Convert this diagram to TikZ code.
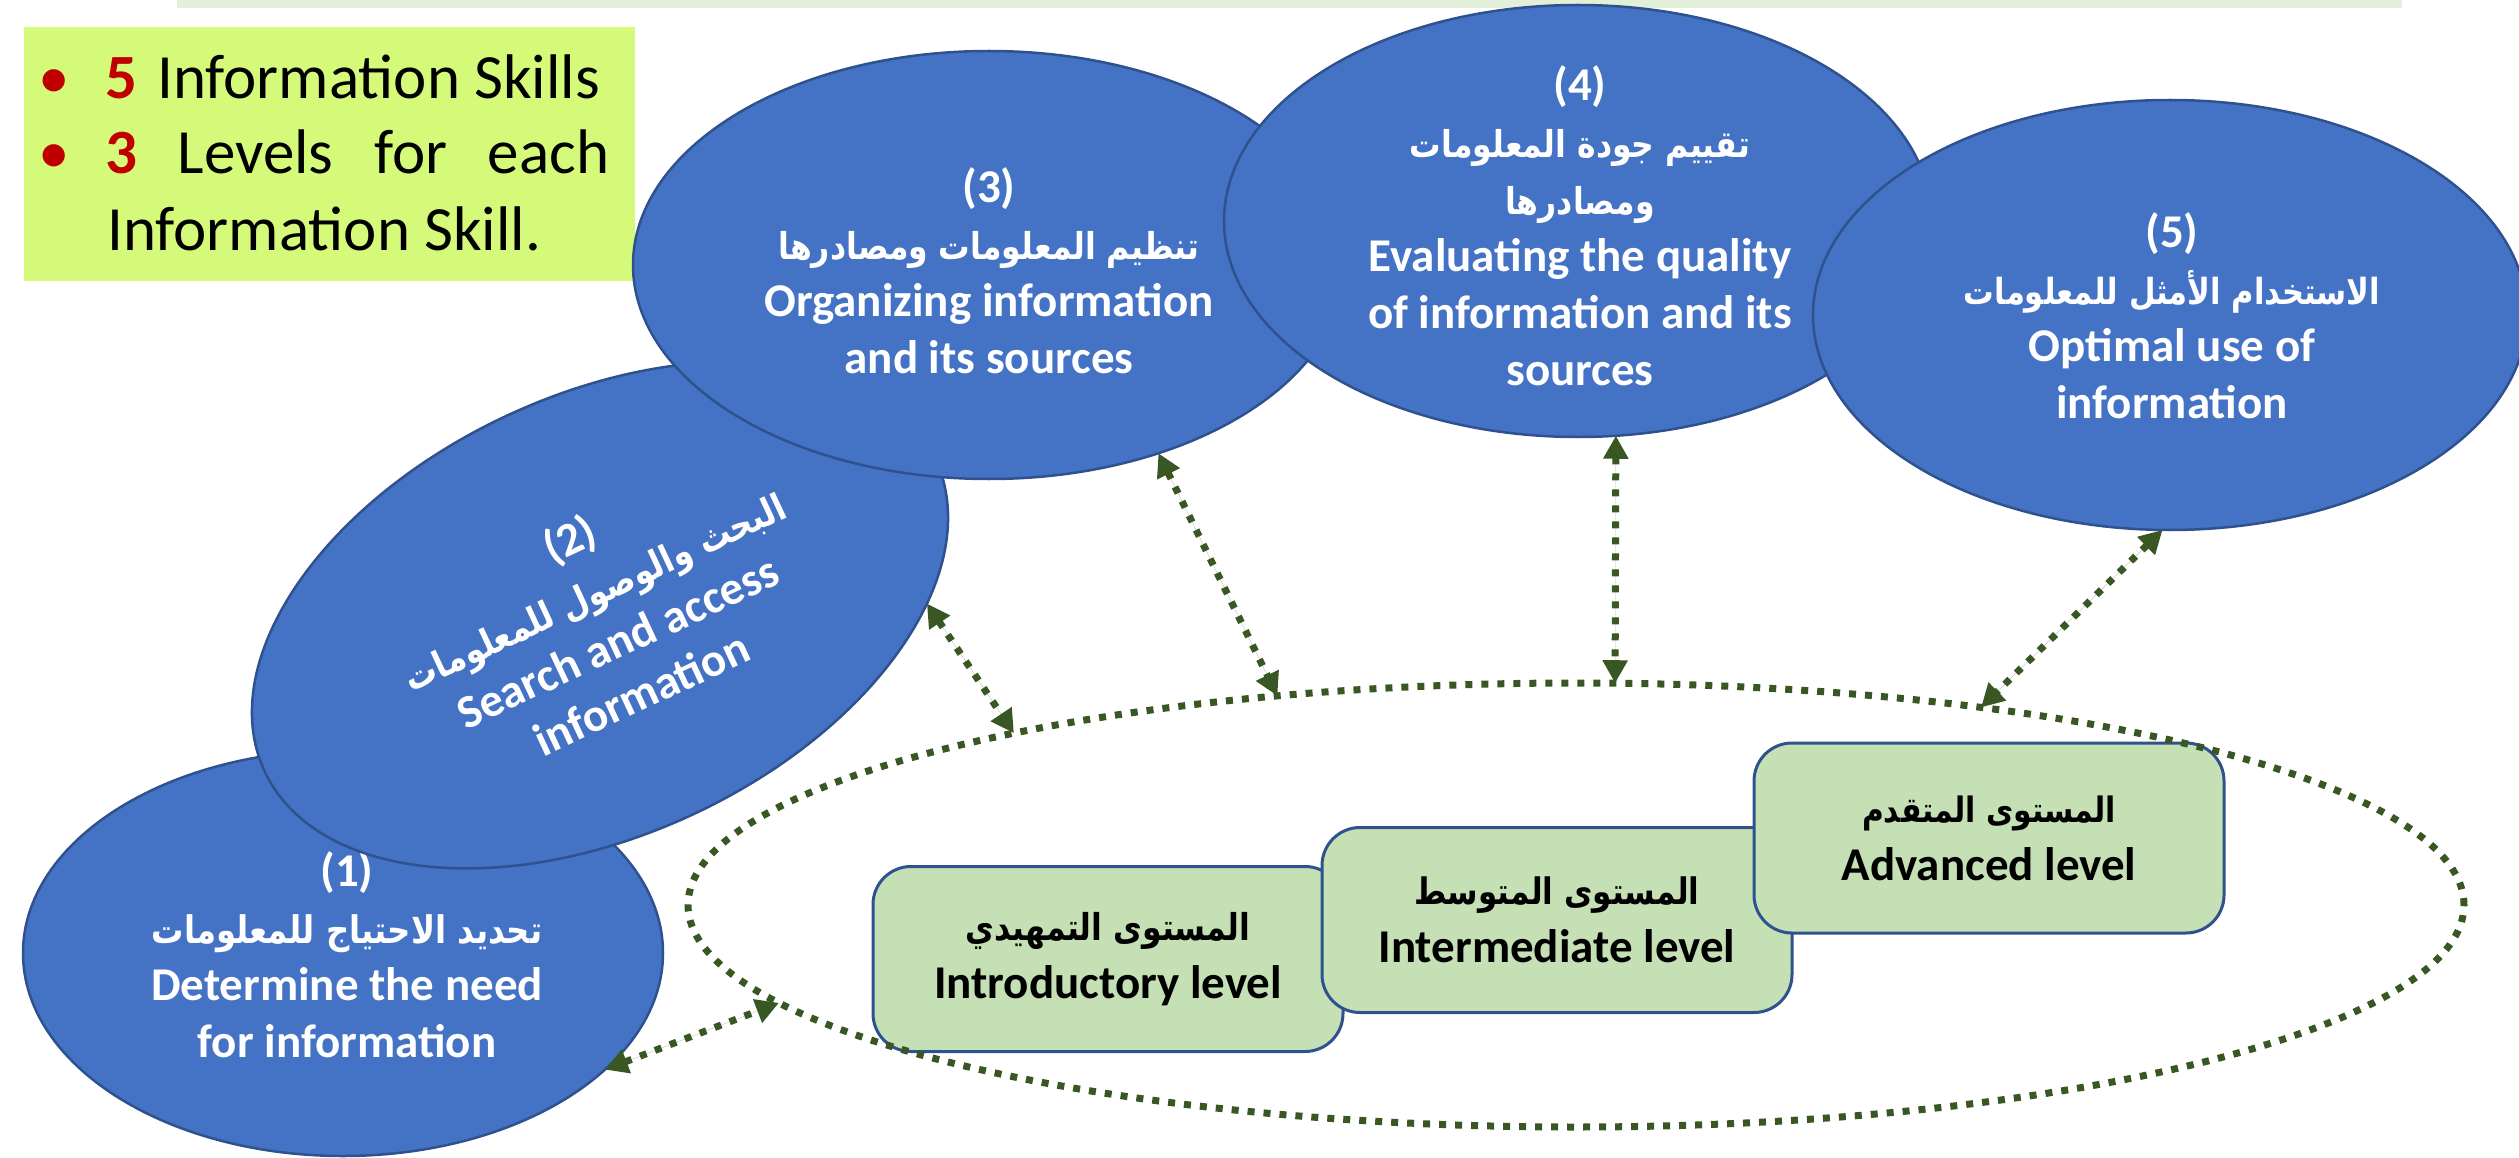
\documentclass[tikz,border=0pt]{standalone}
\usepackage{graphicx}
\usepackage{fontspec}
\setmainfont{Carlito}
\newfontfamily\arabicfont[Script=Arabic]{DejaVu Sans}
\TeXXeTstate=1
\usetikzlibrary{arrows.meta,shapes.geometric}
\definecolor{ellfill}{HTML}{4472C4}
\definecolor{ellline}{HTML}{2F528F}
\definecolor{lvfill}{HTML}{C5E0B4}
\definecolor{notefill}{HTML}{D5FA7A}
\definecolor{barfill}{HTML}{E2F0D9}
\definecolor{dgreen}{HTML}{385723}
\definecolor{numred}{HTML}{C00000}
\newcommand\arline[2][37]{{\arabicfont\fontsize{#1}{57}\selectfont\scalebox{0.85}[1]{\beginR #2\endR}}}
\tikzset{
  skill/.style={ellipse, fill=ellfill, draw=ellline, line width=2.5pt, inner sep=0pt, outer sep=0pt},
  skilltext/.style={text=white, align=center, inner sep=0pt, font=\fontsize{47}{57}\selectfont\bfseries},
  levelbox/.style={rectangle, rounded corners=38pt, fill=lvfill, draw=ellline, line width=3pt,
     minimum width=470pt, minimum height=185pt, inner sep=0pt, align=center, text=black,
     font=\fontsize{47}{58}\selectfont\bfseries},
  dots/.style={draw=dgreen, line width=7pt, dash pattern=on 7pt off 9pt},
  link/.style={dots, {Triangle[length=23pt,width=24pt]}-{Triangle[length=23pt,width=24pt]}, fill=dgreen},
  notetext/.style={inner sep=0pt, anchor=base west, text=black, font=\fontsize{63}{76}\selectfont},
}
\begin{document}
\begin{tikzpicture}[x=1pt,y=-1pt]
\useasboundingbox (0,0) rectangle (2519,1158);
% top bar
\node[rectangle, fill=barfill, inner sep=0pt, minimum width=2225pt, minimum height=8pt] (bar) at (1289.5,4) {};
% note box
\node[rectangle, fill=notefill, inner sep=0pt, minimum width=611pt, minimum height=254pt] (note) at (329.5,154) {};
\node[inner sep=0pt, anchor=base, text=numred, font=\fontsize{63}{76}\selectfont] (b1) at (54,99) {•};
\node[inner sep=0pt, anchor=base, text=numred, font=\fontsize{63}{76}\selectfont] (b2) at (54,174) {•};
\node[notetext] (n1) at (105,99) {\textcolor{numred}{\bfseries 5}\hspace{20pt}Information Skills};
\node[notetext] (n2) at (105,174) {\hbox to 504pt{\textcolor{numred}{\bfseries 3}\hfill Levels\hfill for\hfill each}};
\node[notetext] (n3) at (107,251) {Information Skill.};
% skill ellipses
\node[skill, minimum width=640pt, minimum height=406pt] (e1) at (343,953) {};
\node[skilltext] (t1) at (347,955) {(1)\\ \arline[38]{تحديد الاحتياج للمعلومات}\\ Determine the need\\ for information};
\node[skill, minimum width=740pt, minimum height=440pt, rotate=25] (e2) at (600,615) {};
\node[skilltext, rotate=25] (t2) at (605,615) {(2)\\ \arline[37.5]{البحث والوصول للمعلومات}\\ Search and access\\ information};
\node[skill, minimum width=712pt, minimum height=428pt] (e3) at (989,265) {};
\node[skilltext] (t3) at (989,271) {(3)\\ \arline[37]{تنظيم المعلومات ومصادرها}\\ Organizing information\\ and its sources};
\node[skill, minimum width=708pt, minimum height=432pt] (e4) at (1578,221) {};
\node[skilltext] (t4) at (1580,226) {(4)\\ \arline[37]{تقييم جودة المعلومات}\\ \arline[37]{ومصادرها}\\ Evaluating the quality\\ of information and its\\ sources};
\node[skill, minimum width=714pt, minimum height=430pt] (e5) at (2170,315) {};
\node[skilltext] (t5) at (2172,316) {(5)\\ \arline[36]{الاستخدام الأمثل للمعلومات}\\ Optimal use of\\ information};
% level boxes
\node[levelbox] (l1) at (1108,959) {\arline[37]{المستوى التمهيدي}\\ Introductory level};
\node[levelbox] (l2) at (1557,920) {\arline[36.5]{المستوى المتوسط}\\ Intermediate level};
\node[levelbox, minimum height=190pt] (l3) at (1989,838) {\arline[35]{المستوى المتقدم}\\ Advanced level};
% dotted ellipse of levels
\node[ellipse, dots, minimum width=1776pt, minimum height=444pt, inner sep=0pt, outer sep=0pt] (lv) at (1576,905) {};
% links
\draw[link] (e1.-24) -- (lv.187.7);
\draw[link] (e2.-23) -- (lv.163.9);
\draw[link] (e3.-48.4) -- (lv.145);
\draw[link] (e4.-80.6) -- (lv.80.2);
\draw[link] (e5.-92.1) -- (lv.26.5);
\end{tikzpicture}
\end{document}
